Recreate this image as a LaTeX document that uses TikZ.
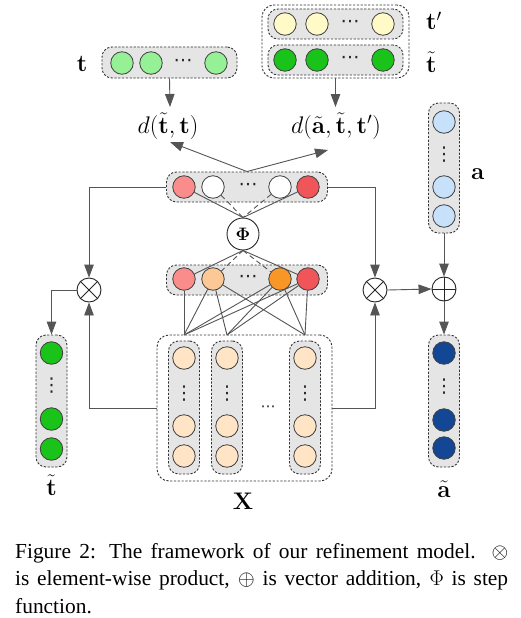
\RequirePackage{fix-cm}
\documentclass[tikz,border=0pt]{standalone}
\usepackage{amsmath}
\usepackage[no-math]{fontspec}
\setmainfont{Liberation Serif}
\newfontfamily\dvs{DejaVu Sans}
\usetikzlibrary{arrows.meta}
\definecolor{tlight}{RGB}{150,240,150}
\definecolor{tgreen}{RGB}{25,195,25}
\definecolor{tyel}{RGB}{255,250,200}
\definecolor{ablue}{RGB}{200,225,250}
\definecolor{adark}{RGB}{20,70,150}
\definecolor{peach}{RGB}{255,228,198}
\definecolor{lred}{RGB}{250,140,140}
\definecolor{lorange}{RGB}{252,200,150}
\definecolor{orange1}{RGB}{248,150,40}
\definecolor{red1}{RGB}{240,85,90}
\definecolor{boxgray}{RGB}{229,229,229}
\definecolor{linec}{RGB}{85,85,85}
\begin{document}
\begin{tikzpicture}[x=1pt,y=-1pt,
  box/.style={draw=black!80, dash pattern=on 2.2pt off 1.6pt, fill=boxgray, rounded corners=10pt, line width=0.9pt, inner sep=0},
  outerbox/.style={draw=black!80, dash pattern=on 2.2pt off 1.6pt, fill=white, rounded corners=12pt, line width=0.9pt, inner sep=0},
  neuron/.style={circle, draw=black!75, line width=0.8pt, minimum size=22.5pt, inner sep=0},
  op/.style={circle, draw=black!85, line width=0.9pt, minimum size=24pt, inner sep=0, fill=white},
  conn/.style={draw=linec, line width=0.9pt},
  dconn/.style={conn, dash pattern=on 5pt off 3.5pt},
  arr/.style={conn, -{Triangle[length=13pt,width=9.5pt]}},
  lbl/.style={font=\fontsize{24}{28}\selectfont, inner sep=0},
  hd/.style={font=\dvs\fontsize{19}{22}\selectfont, inner sep=0, text=black!85},
  vd/.style={font=\dvs\fontsize{19}{22}\selectfont, inner sep=0, text=black!85},
]
\useasboundingbox[fill=white] (0,0) rectangle (520,618);

% ---------- top left: t ----------
\node[box, minimum width=135pt, minimum height=31pt] (tbox) at (169.5,62.5) {};
\node[neuron, fill=tlight] (t1) at (122,63) {};
\node[neuron, fill=tlight] (t2) at (151,63) {};
\node[neuron, fill=tlight] (t3) at (216,63) {};
\node[hd] (tdots) at (183,63) {⋯};
\node[lbl, anchor=center] (tlab) at (82,64) {$\mathbf{t}$};

% ---------- top right: t' and t~ ----------
\node[outerbox, minimum width=147pt, minimum height=73pt] (grp) at (335.5,41.5) {};
\node[box, minimum width=135pt, minimum height=30pt] (tpbox) at (335.5,24) {};
\node[box, minimum width=135pt, minimum height=30pt] (ttbox) at (335.5,60) {};
\node[neuron, fill=tyel] (p1) at (285,24) {};
\node[neuron, fill=tyel] (p2) at (317,24) {};
\node[neuron, fill=tyel] (p3) at (383,24) {};
\node[hd] (pdots) at (350,24) {⋯};
\node[neuron, fill=tgreen] (q1) at (285,60) {};
\node[neuron, fill=tgreen] (q2) at (317,60) {};
\node[neuron, fill=tgreen] (q3) at (383,60) {};
\node[hd] (qdots) at (350,60) {⋯};
\node[lbl, anchor=base west] (tplab) at (426,30) {$\mathbf{t}'$};
\node[lbl, anchor=base west] (ttlab) at (426,72) {$\tilde{\mathbf{t}}$};

% ---------- distance labels ----------
\node[lbl, anchor=base] (d1) at (168,133) {$d(\tilde{\mathbf{t}},\mathbf{t})$};
\node[lbl, anchor=base] (d2) at (336,133) {$d(\tilde{\mathbf{a}},\tilde{\mathbf{t}},\mathbf{t}')$};
\coordinate (d1in) at (170,107);
\coordinate (d2in) at (335.5,107);
\coordinate (d1tip) at (170,142);
\coordinate (d2tip) at (328,150);

% ---------- a column ----------
\node[box, minimum width=31pt, minimum height=130pt] (acol) at (444,168) {};
\node[neuron, fill=ablue] (a1) at (444,122) {};
\node[neuron, fill=ablue] (a2) at (444,187) {};
\node[neuron, fill=ablue] (a3) at (444,216) {};
\node[vd] (adots) at (444,155) {⋮};
\node[lbl, anchor=base west] (alab) at (471,179) {$\mathbf{a}$};

% ---------- output row ----------
\node[box, minimum width=161pt, minimum height=30pt] (obox) at (247,187) {};
\node[neuron, fill=lred] (o1) at (184,187) {};
\node[neuron, fill=white] (o2) at (213,187) {};
\node[neuron, fill=white] (o3) at (280,187) {};
\node[neuron, fill=red1] (o4) at (308,187) {};
\node[hd] (odots) at (248,187) {⋯};

% ---------- Phi ----------
\node[op, minimum size=32pt] (phi) at (243,234) {\fontsize{18}{20}\selectfont$\boldsymbol{\Phi}$};

% ---------- middle row ----------
\node[box, minimum width=161pt, minimum height=30pt] (mbox) at (247,280) {};
\node[neuron, fill=lred] (m1) at (184,279) {};
\node[neuron, fill=lorange] (m2) at (213,279) {};
\node[neuron, fill=orange1] (m3) at (280,279) {};
\node[neuron, fill=red1] (m4) at (308,279) {};
\node[hd] (mdots) at (248,279) {⋯};

% ---------- X ----------
\node[outerbox, minimum width=175pt, minimum height=146pt] (xbox) at (244.5,408) {};
\foreach \n/\x in {1/184, 2/227, 3/305}{
  \node[box, minimum width=31pt, minimum height=133pt] (xc\n) at (\x,407.5) {};
  \node[neuron, fill=peach] (x\n a) at (\x,358) {};
  \node[neuron, fill=peach] (x\n b) at (\x,426) {};
  \node[neuron, fill=peach] (x\n c) at (\x,456) {};
  \node[vd] (x\n dots) at (\x,393.5) {⋮};
}
\node[font=\dvs\fontsize{15}{18}\selectfont, inner sep=0, text=black!85] (xdots) at (268,409) {⋯};
\node[lbl, anchor=base] (xlab) at (243,509) {$\mathbf{X}$};
\coordinate (c1) at (184,335);
\coordinate (c2) at (227,335);
\coordinate (c3) at (305,335);

% ---------- t~ column (left) ----------
\node[box, minimum width=31pt, minimum height=132pt] (tcol) at (51.5,401) {};
\node[neuron, fill=tgreen] (l1) at (51.5,353) {};
\node[neuron, fill=tgreen] (l2) at (51.5,419) {};
\node[neuron, fill=tgreen] (l3) at (51.5,449) {};
\node[vd] (ldots) at (51.5,386) {⋮};
\node[lbl, anchor=base] (tclab) at (51.5,495) {$\tilde{\mathbf{t}}$};

% ---------- a~ column (right) ----------
\node[box, minimum width=31pt, minimum height=132pt] (atcol) at (444,401) {};
\node[neuron, fill=adark] (r1) at (444,353) {};
\node[neuron, fill=adark] (r2) at (444,420) {};
\node[neuron, fill=adark] (r3) at (444,448) {};
\node[vd] (rdots) at (444,387) {⋮};
\node[lbl, anchor=base] (atlab) at (444,497) {$\tilde{\mathbf{a}}$};

% ---------- operators ----------
\node[op] (otL) at (89,290) {};
\draw[black!85, line width=0.9pt] (otL.north west) -- (otL.south east) (otL.north east) -- (otL.south west);
\node[op] (otR) at (375,290) {};
\draw[black!85, line width=0.9pt] (otR.north west) -- (otR.south east) (otR.north east) -- (otR.south west);
\node[op] (opl) at (444,289) {};
\draw[black!85, line width=0.9pt] (opl.north) -- (opl.south) (opl.west) -- (opl.east);

% ---------- connectors ----------
\draw[arr] (tbox.south) -- (d1in);
\draw[arr] (grp.south) -- (d2in);
\draw[arr] (obox.north) -- (d1tip);
\draw[arr] (obox.north) -- (d2tip);

\draw[conn] (o1) -- (phi.north);
\draw[dconn] (o2) -- (phi.north);
\draw[dconn] (o3) -- (phi.north);
\draw[conn] (o4) -- (phi.north);
\draw[conn] (phi.south) -- (m1);
\draw[dconn] (phi.south) -- (m2);
\draw[dconn] (phi.south) -- (m3);
\draw[conn] (phi.south) -- (m4);

\draw[conn] (m1) -- (c1);
\foreach \m in {m2,m3,m4}{
  \draw[conn] (\m) -- (c1);
  \draw[conn] (\m) -- (c2);
  \draw[conn] (\m) -- (c3);
}

\draw[arr] (obox.west) -| (otL.north);
\draw[arr] (obox.east) -| (otR.north);
\draw[arr] (xbox.west) -| (otL.south);
\draw[arr] (xbox.east) -| (otR.south);
\draw[arr] (otL.west) -| (tcol.north);
\draw[arr] (otR.east) -- (opl.west);
\draw[arr] (acol.south) -- (opl.north);
\draw[arr] (opl.south) -- (atcol.north);

% ---------- caption ----------
\node[anchor=north west, text width=493pt, align=justify, inner sep=0,
      font=\fontsize{21.4}{27.5}\selectfont] (cap) at (15,543)
  {Figure 2: The framework of our refinement model. $\otimes$\linebreak is element-wise product, $\oplus$ is vector addition, $\Phi$ is step\linebreak function.};
\end{tikzpicture}
\end{document}
